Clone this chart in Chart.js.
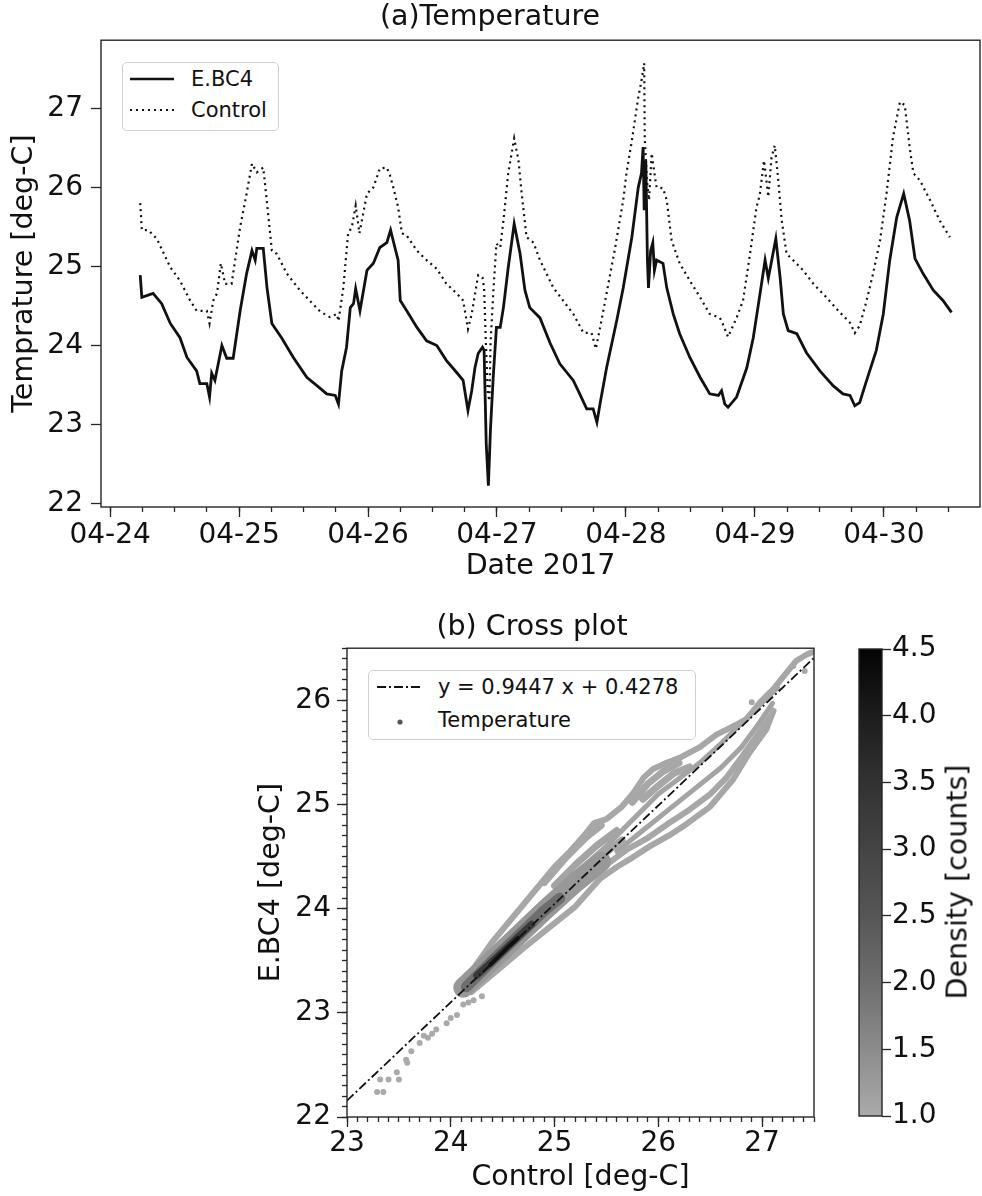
<!DOCTYPE html>
<html>
<head>
<meta charset="utf-8">
<title>Temperature</title>
<script src="https://cdn.jsdelivr.net/npm/chart.js@4.4.0/dist/chart.umd.min.js"></script>
<style>
  html, body { margin: 0; padding: 0; background: #fff; }
  body { position: relative; width: 982px; height: 1196px; overflow: hidden; font-family: "DejaVu Sans", sans-serif; color: #111; }
  canvas { position: absolute; }
  .lg { position: absolute; box-sizing: border-box; background: #fff; border: 1px solid #d0d0d0; border-radius: 5px; font-size: 21px; }
  .lg svg { position: absolute; left: 0; top: 0; }
  .lg span { position: absolute; white-space: nowrap; line-height: 24px; }
  #cbLabel { position: absolute; left: 957px; top: 882px; transform: translate(-50%, -50%) rotate(-90deg); font-size: 28.5px; white-space: nowrap; }
</style>
</head>
<body>
<canvas id="ts" width="982" height="590" style="left:0;top:0;width:982px;height:590px"></canvas>
<canvas id="cross" width="570" height="586" style="left:250px;top:610px;width:570px;height:586px"></canvas>
<canvas id="cbar" width="132" height="586" style="left:850px;top:610px;width:132px;height:586px"></canvas>

<div class="lg" style="left:122px;top:62px;width:157px;height:69px">
  <svg width="157" height="69">
    <line x1="7" y1="16" x2="51" y2="16" stroke="#111" stroke-width="2.6"/>
    <line x1="7" y1="47" x2="51" y2="47" stroke="#111" stroke-width="2.2" stroke-dasharray="2 4"/>
  </svg>
  <span style="left:68px;top:4px">E.BC4</span>
  <span style="left:68px;top:35px">Control</span>
</div>

<div class="lg" style="left:368px;top:670px;width:328px;height:70px">
  <svg width="328" height="70">
    <line x1="8" y1="16" x2="52" y2="16" stroke="#111" stroke-width="1.8" stroke-dasharray="9 3 2 3"/>
    <circle cx="31" cy="51" r="2.6" fill="#555"/>
  </svg>
  <span style="left:69px;top:4px">y = 0.9447 x + 0.4278</span>
  <span style="left:69px;top:37px">Temperature</span>
</div>

<div id="cbLabel">Density [counts]</div>

<script>
// (a) time series, hours since 2017-04-24 00:00
const hoursEbc = [5.6,5.9,8.0,9.6,11.2,13.0,14.3,16.1,16.7,18.0,
  18.5,18.9,19.5,20.8,21.7,22.9,24.2,25.4,26.4,27.0,
  27.3,28.5,29.2,30.1,31.9,34.1,36.6,39.1,40.3,41.9,
  42.5,43.1,44.0,44.7,45.3,45.7,46.5,47.8,49.0,50.2,
  51.5,52.2,53.0,53.6,54.0,55.2,57.1,58.9,60.8,62.6,
  64.5,65.7,66.6,67.3,67.9,68.5,69.3,69.6,70.0,70.4,
  70.8,71.3,71.9,72.6,73.2,74.1,75.2,76.3,77.2,78.1,
  80.0,81.9,83.7,86.2,87.4,88.7,89.9,90.6,91.2,92.4,
  94.3,95.5,97.1,98.3,98.9,99.2,99.4,99.7,100.0,100.2,
  100.6,101.0,101.3,101.7,102.9,103.6,104.8,106.0,107.9,109.8,
  111.6,113.2,113.8,114.4,115.0,116.6,118.5,119.7,120.9,121.9,
  122.5,123.9,124.7,125.3,126.2,127.8,129.6,132.1,134.6,136.4,
  137.7,138.6,139.5,140.8,142.6,143.9,145.1,146.4,147.7,148.8,
  149.8,151.3,153.2,155.0,156.6];
const tempEbc = [24.89,24.61,24.66,24.53,24.28,24.10,23.85,23.68,23.52,23.52,
  23.35,23.65,23.56,24.00,23.84,23.84,24.44,24.91,25.20,25.08,
  25.23,25.23,24.73,24.28,24.10,23.85,23.60,23.46,23.39,23.37,
  23.26,23.68,23.98,24.48,24.53,24.72,24.44,24.95,25.04,25.24,
  25.30,25.46,25.24,25.08,24.57,24.44,24.23,24.06,24.00,23.81,
  23.66,23.56,23.18,23.43,23.72,23.90,23.98,23.94,22.76,22.23,
  22.96,23.60,24.23,24.23,24.48,24.99,25.54,25.16,24.70,24.48,
  24.35,24.03,23.77,23.56,23.39,23.20,23.20,23.03,23.27,23.72,
  24.32,24.73,25.37,26.00,26.18,26.51,25.71,26.34,25.08,24.73,
  25.20,25.30,24.95,25.08,25.04,24.73,24.40,24.15,23.85,23.60,
  23.39,23.37,23.43,23.26,23.22,23.35,23.72,24.10,24.63,25.08,
  24.85,25.35,24.86,24.40,24.19,24.15,23.91,23.68,23.49,23.39,
  23.37,23.24,23.28,23.56,23.94,24.40,25.08,25.62,25.92,25.58,
  25.10,24.91,24.70,24.57,24.42];

const hoursCtl = [5.6,5.9,7.1,8.7,11.2,13.0,14.9,16.1,18.0,18.5,
  19.2,19.9,20.6,21.4,22.6,24.2,25.4,26.4,27.3,28.5,
  29.2,30.1,31.0,32.9,35.3,39.1,40.9,42.2,42.5,43.4,
  44.3,45.0,45.7,46.4,47.8,49.0,50.2,51.5,52.1,52.7,
  53.6,54.3,55.2,57.1,58.9,60.8,62.6,64.5,65.7,66.6,
  67.3,68.5,69.3,69.6,69.9,70.3,70.6,70.8,71.3,71.9,
  72.6,73.2,74.1,75.2,76.0,76.6,77.5,78.8,80.0,82.5,
  84.3,86.2,88.1,89.6,90.4,91.2,92.4,94.0,95.5,96.1,
  97.1,98.3,98.9,99.4,99.5,99.9,100.3,100.8,101.3,101.7,
  102.9,103.6,104.5,106.0,107.9,109.8,111.6,113.5,114.0,115.0,
  116.6,117.8,119.1,120.3,120.9,121.7,122.5,123.1,123.7,124.3,
  125.0,125.9,127.1,129.0,130.9,133.3,135.8,137.7,138.6,139.5,
  140.8,142.0,143.3,144.5,145.7,147.0,147.9,148.8,149.5,150.7,
  152.6,154.4,156.3];
const tempCtl = [25.80,25.46,25.46,25.35,24.99,24.82,24.57,24.44,24.44,24.28,
  24.57,24.66,25.04,24.78,24.78,25.50,25.92,26.30,26.19,26.25,
  25.80,25.20,25.16,24.91,24.70,24.43,24.36,24.40,24.31,24.73,
  25.42,25.50,25.77,25.42,25.92,26.00,26.24,26.25,26.15,26.00,
  25.75,25.42,25.39,25.20,25.08,24.97,24.78,24.66,24.57,24.21,
  24.40,24.89,24.86,24.73,24.10,23.39,23.30,24.03,24.66,25.29,
  25.24,25.58,26.18,26.62,26.34,25.92,25.37,25.30,25.08,24.73,
  24.57,24.40,24.16,24.16,23.96,24.23,24.66,25.24,25.84,26.18,
  26.59,27.14,27.35,27.57,26.63,26.09,25.84,26.43,26.18,26.00,
  25.99,25.84,25.33,25.04,24.82,24.61,24.40,24.35,24.28,24.11,
  24.35,24.57,25.16,25.75,25.90,26.34,25.88,26.38,26.53,26.13,
  25.58,25.16,25.08,24.95,24.78,24.61,24.42,24.29,24.16,24.25,
  24.57,24.91,25.33,25.92,26.63,27.08,27.04,26.51,26.18,26.09,
  25.84,25.58,25.37];

const dayTicks = [0, 24, 48, 72, 96, 120, 144];
const dayLabels = ['04-24', '04-25', '04-26', '04-27', '04-28', '04-29', '04-30'];
const tempTicks = [22, 23, 24, 25, 26, 27];

// (b) cross plot, [Control, E.BC4] read along the visible point trails
const fitControl = [23.0, 27.5];
const fitEbc = [22.157, 26.407];
const controlTicks = [23, 24, 25, 26, 27];
const ebcTicks = [22, 23, 24, 25, 26];

const tailDots = [[23.29,22.24],[23.35,22.24],[23.32,22.36],[23.40,22.36],[23.48,22.43],[23.50,22.36],
  [23.57,22.55],[23.58,22.52],[23.62,22.63],[23.70,22.71],[23.74,22.78],[23.78,22.76],[23.82,22.80],
  [23.86,22.84],[23.96,22.90],[24.00,22.95],[24.06,22.98],[24.12,23.08],[24.17,23.10],[24.22,23.12],[24.30,23.16]];
const strayDots = [[27.41,26.28],[27.30,26.33],[26.90,25.98]];
const trailUpper = [[24.10,23.25],[24.25,23.47],[24.40,23.68],[24.60,23.92],[24.80,24.16],[25.00,24.40],
  [25.15,24.55],[25.30,24.72],[25.38,24.82],[25.50,24.86],[25.65,24.98],[25.76,25.11],[25.86,25.26],
  [25.95,25.34],[26.08,25.40],[26.21,25.45],[26.40,25.55],[26.56,25.67],[26.72,25.75],[26.85,25.82],
  [26.98,25.98],[27.11,26.11],[27.24,26.27],[27.33,26.38],[27.43,26.44],[27.48,26.46]];
const trailLow1 = [[24.20,23.20],[24.45,23.41],[24.70,23.62],[24.95,23.82],[25.20,24.02],[25.44,24.29],
  [25.60,24.40],[25.75,24.49],[25.92,24.60],[26.10,24.70],[26.24,24.79],[26.50,24.98],[26.72,25.24],
  [26.88,25.50],[27.04,25.72],[27.11,25.90]];
const trailLow2 = [[25.30,24.25],[25.50,24.42],[25.70,24.57],[25.90,24.68],[26.10,24.82],[26.30,24.95],
  [26.50,25.10],[26.65,25.25],[26.80,25.45],[26.95,25.66],[27.08,25.85]];
const trailLow3 = [[25.60,24.55],[25.85,24.75],[26.10,24.95],[26.35,25.15],[26.60,25.35],[26.80,25.55],
  [26.95,25.75],[27.10,25.97]];
const trailMid = [[25.00,24.15],[25.25,24.38],[25.50,24.60],[25.75,24.85],[26.00,25.10],[26.20,25.25],
  [26.40,25.40],[26.60,25.58],[26.80,25.78],[27.00,25.98],[27.15,26.12]];
const lobeA = [[24.90,24.25],[25.10,24.48],[25.30,24.68],[25.45,24.80]];
const lobeB = [[25.00,24.22],[25.20,24.42],[25.40,24.60],[25.60,24.75]];
const lobeC = [[25.05,24.12],[25.25,24.30],[25.45,24.50],[25.65,24.66]];
const lobeD = [[25.75,25.02],[25.90,25.20],[26.05,25.32],[26.20,25.40]];
const lobeE = [[25.85,25.05],[26.00,25.18],[26.15,25.30],[26.30,25.36]];
const bandBody = [[24.12,23.24],[24.50,23.60],[24.90,23.98],[25.20,24.25],[25.45,24.45]];
const coreMid = [[24.15,23.25],[24.40,23.50],[24.65,23.74],[24.90,23.98],[25.05,24.10]];
const coreDark = [[24.25,23.36],[24.45,23.54],[24.65,23.73],[24.78,23.85]];
const coreBlack = [[24.38,23.46],[24.55,23.63],[24.65,23.72]];

// colour bar
const densityTicks = [1.0, 1.5, 2.0, 2.5, 3.0, 3.5, 4.0, 4.5];
const greyLevels = [170, 140, 110, 86, 68, 50, 28, 4];

Chart.defaults.font.family = 'DejaVu Sans';
Chart.defaults.color = '#111';

const INK = '#111';
const SPINE = '#262626';
const big = { size: 28 };
const head = { size: 28.5, weight: 'normal' };

function greyAt(v) {
  let i = 0;
  while (i < densityTicks.length - 2 && v > densityTicks[i + 1]) i++;
  const t = Math.max(0, Math.min(1, (v - densityTicks[i]) / (densityTicks[i + 1] - densityTicks[i])));
  const g = Math.round(greyLevels[i] + t * (greyLevels[i + 1] - greyLevels[i]));
  return `rgb(${g},${g},${g})`;
}

const fixedTicks = values => scale => { scale.ticks = values.map(value => ({ value })); };
const steps = (from, to, step) => {
  const out = [];
  for (let v = from; v <= to + 1e-9; v += step) out.push(Math.round(v * 100) / 100);
  return out;
};
const pairs = list => list.map(([x, y]) => ({ x, y }));

const frame = {
  id: 'frame',
  afterDraw(chart) {
    const { ctx, chartArea: a } = chart;
    ctx.save();
    ctx.strokeStyle = SPINE;
    ctx.lineWidth = 1.4;
    ctx.strokeRect(a.left, a.top, a.right - a.left, a.bottom - a.top);
    ctx.restore();
  }
};

const tickGrid = len => ({ drawOnChartArea: false, tickLength: len, tickColor: SPINE, tickWidth: 1.3 });

// ---------- (a) Temperature ----------
const hMin = -1.7, hMax = 161.9;
new Chart(document.getElementById('ts'), {
  type: 'line',
  data: {
    datasets: [
      { label: 'E.BC4', data: hoursEbc.map((h, i) => ({ x: h, y: tempEbc[i] })),
        borderColor: INK, borderWidth: 2.8, pointRadius: 0, tension: 0, fill: false },
      { label: 'Control', data: hoursCtl.map((h, i) => ({ x: h, y: tempCtl[i] })),
        borderColor: INK, borderWidth: 2.2, borderDash: [2, 4], pointRadius: 0, tension: 0, fill: false }
    ]
  },
  options: {
    responsive: false, animation: false,
    layout: { padding: { left: 0, right: 2, top: 0, bottom: 0 } },
    plugins: {
      legend: { display: false }, tooltip: { enabled: false },
      title: { display: true, text: '(a)Temperature', color: INK, font: head, padding: { top: 0, bottom: 6 } }
    },
    scales: {
      x: {
        type: 'linear', min: hMin, max: hMax, weight: 1,
        afterBuildTicks: fixedTicks(dayTicks),
        ticks: { callback: v => dayLabels[dayTicks.indexOf(v)] ?? '', font: big, color: INK, padding: 2, maxRotation: 0, autoSkip: false },
        grid: tickGrid(10), border: { display: false },
        title: { display: true, text: 'Date 2017', color: INK, font: head, padding: { top: 0, bottom: 6 } },
        afterFit: s => { s.height = 83; }
      },
      xMinor: {
        type: 'linear', position: 'bottom', min: hMin, max: hMax, weight: 0,
        afterBuildTicks: fixedTicks(steps(0, 156, 6)),
        ticks: { display: false }, grid: tickGrid(5), border: { display: false },
        afterFit: s => { s.height = 0; }
      },
      y: {
        min: 21.96, max: 27.86,
        afterBuildTicks: fixedTicks(tempTicks),
        ticks: { callback: v => String(v), font: big, color: INK, padding: 8 },
        grid: tickGrid(10), border: { display: false },
        title: { display: true, text: 'Temprature [deg-C]', color: INK, font: head, padding: { top: 7, bottom: 0 } },
        afterFit: s => { s.width = 101; }
      }
    }
  },
  plugins: [frame]
});

// ---------- (b) Cross plot ----------
const trail = (pts, density, width) => ({
  data: pairs(pts), showLine: true, borderColor: greyAt(density), borderWidth: width,
  borderCapStyle: 'round', borderJoinStyle: 'round', pointRadius: 0, tension: 0
});
const dots = (pts, density) => ({
  data: pairs(pts), showLine: false, pointRadius: 3, pointBorderWidth: 0,
  pointBackgroundColor: greyAt(density), pointBorderColor: greyAt(density)
});

new Chart(document.getElementById('cross'), {
  type: 'scatter',
  data: {
    datasets: [
      { label: 'y = 0.9447 x + 0.4278', data: fitControl.map((x, i) => ({ x, y: fitEbc[i] })),
        showLine: true, borderColor: INK, borderWidth: 1.8, borderDash: [9, 3, 2, 3], pointRadius: 0 },
      trail(coreBlack, 4.2, 4),
      trail(coreDark, 3.3, 7),
      trail(coreMid, 2.0, 11),
      trail(bandBody, 1.3, 20),
      trail(trailUpper, 1.05, 6),
      trail(trailLow1, 1.05, 6),
      trail(trailLow2, 1.05, 6),
      trail(trailLow3, 1.1, 5),
      trail(trailMid, 1.1, 5),
      trail(lobeA, 1.05, 7),
      trail(lobeB, 1.1, 7),
      trail(lobeC, 1.1, 7),
      trail(lobeD, 1.05, 7),
      trail(lobeE, 1.05, 7),
      dots(strayDots, 1.05),
      dots(tailDots, 1.0)
    ]
  },
  options: {
    responsive: false, animation: false,
    layout: { padding: { left: 0, right: 6, top: 0, bottom: 0 } },
    plugins: {
      legend: { display: false }, tooltip: { enabled: false },
      title: { display: true, text: '(b) Cross plot', color: INK, font: head, padding: { top: 0, bottom: 4 } }
    },
    scales: {
      x: {
        type: 'linear', min: 23, max: 27.5, weight: 1,
        afterBuildTicks: fixedTicks(controlTicks),
        ticks: { callback: v => String(v), font: big, color: INK, padding: 0, maxRotation: 0, autoSkip: false },
        grid: tickGrid(10), border: { display: false },
        title: { display: true, text: 'Control [deg-C]', color: INK, font: head, padding: { top: 0, bottom: 1 } },
        afterFit: s => { s.height = 79; }
      },
      xMinor: {
        type: 'linear', position: 'bottom', min: 23, max: 27.5, weight: 0,
        afterBuildTicks: fixedTicks(steps(23, 27.5, 0.1)),
        ticks: { display: false }, grid: tickGrid(5), border: { display: false },
        afterFit: s => { s.height = 0; }
      },
      y: {
        type: 'linear', min: 22, max: 26.5, weight: 1,
        afterBuildTicks: fixedTicks(ebcTicks),
        ticks: { callback: v => String(v), font: big, color: INK, padding: 6 },
        grid: tickGrid(10), border: { display: false },
        title: { display: true, text: 'E.BC4 [deg-C]', color: INK, font: head, padding: { top: 4, bottom: 0 } },
        afterFit: s => { s.width = 97; }
      },
      yMinor: {
        type: 'linear', position: 'left', min: 22, max: 26.5, weight: 0,
        afterBuildTicks: fixedTicks(steps(22, 26.5, 0.1)),
        ticks: { display: false }, grid: tickGrid(5), border: { display: false },
        afterFit: s => { s.width = 0; }
      }
    }
  },
  plugins: [frame]
});

// ---------- colour bar ----------
new Chart(document.getElementById('cbar'), {
  type: 'bar',
  data: {
    labels: [''],
    datasets: [{
      data: [[densityTicks[0], densityTicks[densityTicks.length - 1]]],
      barPercentage: 1, categoryPercentage: 1, borderWidth: 0,
      backgroundColor: c => {
        const a = c.chart.chartArea;
        if (!a) return '#888';
        const g = c.chart.ctx.createLinearGradient(0, a.bottom, 0, a.top);
        const span = densityTicks[densityTicks.length - 1] - densityTicks[0];
        densityTicks.forEach(v => g.addColorStop((v - densityTicks[0]) / span, greyAt(v)));
        return g;
      }
    }]
  },
  options: {
    responsive: false, animation: false,
    layout: { padding: { left: 9, right: 0, top: 39, bottom: 80 } },
    plugins: { legend: { display: false }, tooltip: { enabled: false } },
    scales: {
      x: { display: false },
      y: {
        position: 'right', min: 1, max: 4.5,
        afterBuildTicks: fixedTicks(densityTicks),
        ticks: { callback: v => v.toFixed(1), font: big, color: INK, padding: 1 },
        grid: tickGrid(9), border: { display: false },
        afterFit: s => { s.width = 100; }
      }
    }
  },
  plugins: [frame]
});
</script>
</body>
</html>
